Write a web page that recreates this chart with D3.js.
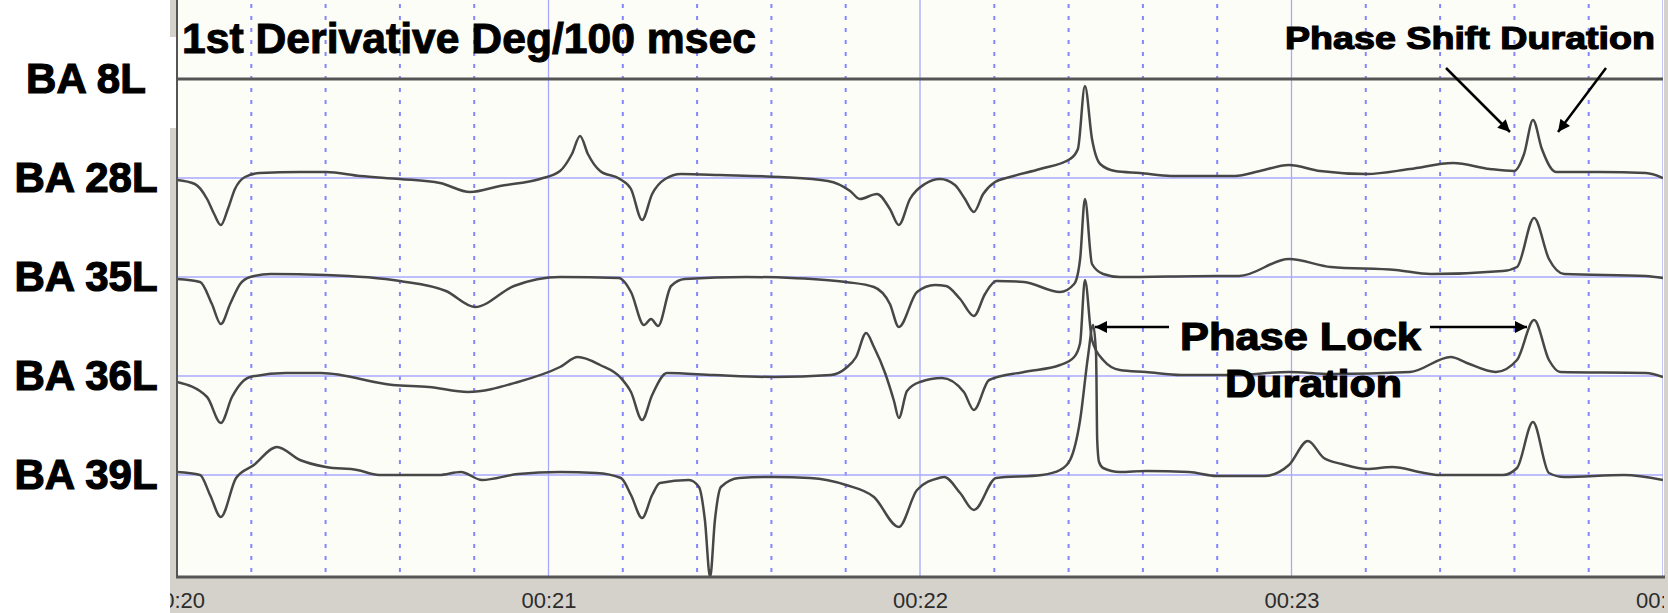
<!DOCTYPE html>
<html><head><meta charset="utf-8">
<script src="https://cdn.jsdelivr.net/npm/d3@7"></script>
<style>
html,body{margin:0;padding:0;background:#fff;}
svg{display:block;}
</style></head><body>
<svg id="chart" width="1668" height="613"></svg>
<script>
// ---------- data ----------
const channels = ["BA 8L", "BA 28L", "BA 35L", "BA 36L", "BA 39L"];
const tickSeconds = [20, 21, 22, 23, 24];
const tickLabels = ["00:20", "00:21", "00:22", "00:23", "00:24"];
const titleText = "1st Derivative Deg/100 msec";

// [time (s), 1st derivative value] per channel
const ba8L = [[20.0, 0], [24.0, 0]];
const ba28L = [[20.000,-2],[20.048,-6],[20.081,-21],[20.100,-36],[20.118,-47],[20.137,-31],[20.156,-11],[20.183,1],[20.223,5],[20.331,6],[20.401,6],[20.493,2],[20.600,-1],[20.708,-5],[20.789,-14],[20.869,-8],[20.977,-1],[21.031,7],[21.063,24],[21.085,42],[21.106,24],[21.139,7],[21.192,-1],[21.222,-11],[21.252,-42],[21.279,-16],[21.314,-1],[21.357,4],[21.462,3],[21.623,1],[21.752,-3],[21.812,-13],[21.838,-21],[21.884,-16],[21.919,-31],[21.943,-47],[21.973,-21],[22.013,-6],[22.054,-1],[22.094,-7],[22.121,-21],[22.145,-34],[22.170,-16],[22.202,-4],[22.242,1],[22.323,9],[22.404,19],[22.425,29],[22.444,92],[22.463,39],[22.485,14],[22.525,7],[22.592,5],[22.676,2],[22.848,2],[22.915,7],[22.993,13],[23.077,7],[23.203,4],[23.319,9],[23.435,15],[23.534,9],[23.599,7],[23.626,24],[23.650,58],[23.674,29],[23.712,6],[23.830,6],[23.954,5],[24.000,0]];
const ba35L = [[20.000,-2],[20.062,-5],[20.094,-27],[20.118,-47],[20.143,-27],[20.170,-7],[20.197,0],[20.253,3],[20.401,2],[20.600,-4],[20.724,-14],[20.802,-30],[20.907,-9],[21.031,0],[21.190,-1],[21.222,-15],[21.257,-48],[21.276,-42],[21.295,-49],[21.330,-9],[21.367,-2],[21.532,0],[21.655,-1],[21.801,-5],[21.876,-10],[21.919,-27],[21.943,-50],[21.992,-15],[22.040,-8],[22.070,-9],[22.108,-22],[22.145,-39],[22.175,-17],[22.205,-4],[22.280,-5],[22.377,-15],[22.415,-7],[22.431,18],[22.444,78],[22.463,13],[22.493,3],[22.538,0],[22.799,1],[22.859,1],[22.993,18],[23.106,10],[23.281,7],[23.375,3],[23.569,6],[23.607,10],[23.653,59],[23.693,18],[23.734,3],[23.954,1],[24.000,-1]];
const ba36L = [[20.000,-6],[20.081,-21],[20.118,-47],[20.148,-21],[20.197,-1],[20.293,3],[20.388,3],[20.581,-9],[20.678,-11],[20.783,-16],[20.918,-6],[21.031,9],[21.079,19],[21.139,11],[21.195,-2],[21.222,-16],[21.252,-44],[21.279,-19],[21.319,3],[21.445,1],[21.607,-1],[21.760,1],[21.801,8],[21.828,19],[21.855,43],[21.876,29],[21.906,3],[21.930,-25],[21.943,-42],[21.965,-15],[22.000,-6],[22.059,-2],[22.118,-16],[22.145,-34],[22.186,-4],[22.280,4],[22.377,11],[22.415,19],[22.431,33],[22.444,96],[22.463,36],[22.493,16],[22.538,6],[22.608,4],[22.703,1],[22.848,1],[22.993,4],[23.106,2],[23.319,4],[23.429,19],[23.472,13],[23.550,4],[23.607,16],[23.653,56],[23.693,16],[23.723,4],[23.954,3],[24.000,-1]];
const ba39L = [[20.000,3],[20.062,0],[20.089,-20],[20.118,-42],[20.159,-3],[20.207,10],[20.269,28],[20.331,15],[20.401,8],[20.485,5],[20.544,0],[20.705,0],[20.764,3],[20.821,-5],[20.918,1],[21.031,3],[21.128,2],[21.195,-3],[21.222,-20],[21.252,-43],[21.279,-20],[21.300,-8],[21.378,-5],[21.405,-12],[21.421,-45],[21.435,-102],[21.448,-45],[21.464,-12],[21.513,-3],[21.607,-2],[21.704,-3],[21.801,-10],[21.876,-22],[21.943,-52],[21.992,-15],[22.051,-3],[22.065,-2],[22.108,-18],[22.145,-35],[22.205,-3],[22.328,0],[22.377,5],[22.404,15],[22.431,55],[22.452,118],[22.466,150],[22.474,120],[22.477,35],[22.482,13],[22.493,7],[22.538,3],[22.608,4],[22.724,3],[22.799,-1],[22.926,-1],[22.993,10],[23.044,34],[23.087,17],[23.136,11],[23.203,6],[23.271,8],[23.357,2],[23.397,0],[23.569,0],[23.607,7],[23.650,53],[23.693,2],[23.734,-2],[23.895,0],[24.000,-5]];
const seriesList = [ba8L, ba28L, ba35L, ba36L, ba39L];

// annotations
const shiftLabel = "Phase Shift Duration";
const lockLabel1 = "Phase Lock";
const lockLabel2 = "Duration";

// ---------- layout ----------
const W = 1668, H = 613;
const P = {left: 177, right: 1663, top: 0, bottom: 577};
const FONT = "'Liberation Sans', Arial, Helvetica, sans-serif";
const GRAY = "#d5d2cc";

const svg = d3.select("#chart");
const x = d3.scaleLinear().domain([20, 24]).range([P.left, P.right]);
const chan = d3.scalePoint().domain(channels).range([79, 475]);
const amp = d3.scaleLinear().domain([-100, 100]).range([100, -100]);

const defs = svg.append("defs");
defs.append("clipPath").attr("id", "plotClip").append("rect")
  .attr("x", P.left).attr("y", P.top).attr("width", P.right - P.left).attr("height", P.bottom - P.top);
defs.append("clipPath").attr("id", "axisClip").append("rect")
  .attr("x", 170).attr("y", P.bottom).attr("width", 1664 - 170).attr("height", H - P.bottom);
defs.append("marker").attr("id", "arrow").attr("viewBox", "0 0 10 10")
  .attr("refX", 10).attr("refY", 5).attr("markerUnits", "userSpaceOnUse")
  .attr("markerWidth", 16).attr("markerHeight", 12).attr("orient", "auto")
  .append("path").attr("d", "M0,0 L10,5 L0,10 Z").attr("fill", "#000");

// backgrounds
svg.append("rect").attr("x", 0).attr("y", 0).attr("width", W).attr("height", H).attr("fill", "#fff");
svg.append("rect").attr("x", P.left).attr("y", P.top).attr("width", P.right - P.left).attr("height", P.bottom - P.top).attr("fill", "#fdfdf8");
svg.append("rect").attr("x", 170).attr("y", P.bottom).attr("width", W - 170).attr("height", H - P.bottom).attr("fill", GRAY);
svg.append("rect").attr("x", 170).attr("y", 0).attr("width", 7).attr("height", 37).attr("fill", GRAY);
svg.append("rect").attr("x", 170).attr("y", 128).attr("width", 7).attr("height", P.bottom - 128).attr("fill", GRAY);
svg.append("rect").attr("x", 1664).attr("y", 0).attr("width", 4).attr("height", H).attr("fill", GRAY);

// grid
const grid = svg.append("g").attr("clip-path", "url(#plotClip)");
const minor = d3.range(1, 20).filter(i => i % 5 !== 0).map(i => 20 + i * 0.2);
grid.selectAll("line.minor").data(minor).join("line").attr("class", "minor")
  .attr("x1", d => x(d)).attr("x2", d => x(d)).attr("y1", P.top + 4).attr("y2", P.bottom)
  .attr("stroke", "#8585ff").attr("stroke-width", 2).attr("stroke-dasharray", "4,8");
grid.selectAll("line.major").data(tickSeconds.slice(1)).join("line").attr("class", "major")
  .attr("x1", d => x(d)).attr("x2", d => x(d)).attr("y1", P.top).attr("y2", P.bottom)
  .attr("stroke", "#a8a8ff").attr("stroke-width", 1.3);
grid.selectAll("line.base").data(channels.slice(1)).join("line").attr("class", "base")
  .attr("x1", P.left).attr("x2", P.right).attr("y1", d => chan(d)).attr("y2", d => chan(d))
  .attr("stroke", "#a8a8ff").attr("stroke-width", 1.5);

// traces
const traces = svg.append("g").attr("clip-path", "url(#plotClip)");
channels.forEach((c, i) => {
  const line = d3.line()
    .x(d => x(d[0]))
    .y(d => chan(c) + amp(d[1]))
    .curve(d3.curveMonotoneX);
  traces.append("path").datum(seriesList[i])
    .attr("d", line).attr("fill", "none")
    .attr("stroke", i === 0 ? "#555" : "#474747")
    .attr("stroke-width", i === 0 ? 3 : 2.5)
    .attr("stroke-linejoin", "round");
});

// borders
svg.append("line").attr("x1", P.left).attr("x2", P.left).attr("y1", 0).attr("y2", P.bottom)
  .attr("stroke", "#555").attr("stroke-width", 2);
svg.append("line").attr("x1", P.left - 1).attr("x2", 1665).attr("y1", P.bottom).attr("y2", P.bottom)
  .attr("stroke", "#555").attr("stroke-width", 3);

// x axis (labels clipped to the grey strip, as in the original screenshot)
const axis = d3.axisBottom(x).tickValues(tickSeconds)
  .tickFormat((d, i) => tickLabels[i]).tickSize(0).tickPadding(15);
const axOuter = svg.append("g").attr("clip-path", "url(#axisClip)");
const ax = axOuter.append("g").attr("transform", `translate(0,${P.bottom})`).call(axis);
ax.select(".domain").remove();
ax.selectAll("text").attr("font-family", FONT).attr("font-size", 22).attr("fill", "#2c2c2c");

// title
svg.append("text").attr("x", 182).attr("y", 53).text(titleText)
  .attr("font-family", FONT).attr("font-weight", "bold").attr("font-size", 42)
  .attr("textLength", 574).attr("lengthAdjust", "spacingAndGlyphs")
  .attr("fill", "#000").attr("stroke", "#000").attr("stroke-width", 1);

// channel labels
svg.selectAll("text.chan").data(channels).join("text").attr("class", "chan")
  .attr("x", 86).attr("y", d => chan(d) + 14).attr("text-anchor", "middle")
  .text(d => d)
  .attr("font-family", FONT).attr("font-weight", "bold").attr("font-size", 42)
  .attr("fill", "#000").attr("stroke", "#000").attr("stroke-width", 1.2);

// annotations
function boldText(txt, tx, ty, size, len) {
  svg.append("text").attr("x", tx).attr("y", ty).text(txt)
    .attr("font-family", FONT).attr("font-weight", "bold").attr("font-size", size)
    .attr("textLength", len).attr("lengthAdjust", "spacingAndGlyphs")
    .attr("fill", "#000").attr("stroke", "#000").attr("stroke-width", 1.2);
}
boldText(shiftLabel, 1285, 49, 32, 370);
boldText(lockLabel1, 1180, 350, 38, 241);
boldText(lockLabel2, 1225, 397, 38, 177);

function arrow(x1, y1, x2, y2) {
  svg.append("line").attr("x1", x1).attr("y1", y1).attr("x2", x2).attr("y2", y2)
    .attr("stroke", "#000").attr("stroke-width", 2.5).attr("marker-end", "url(#arrow)");
}
arrow(1169, 327, 1095, 327);
arrow(1430, 327, 1527, 327);
arrow(1446, 68, 1510, 132);
arrow(1606, 68, 1558, 132);
</script>
</body></html>
